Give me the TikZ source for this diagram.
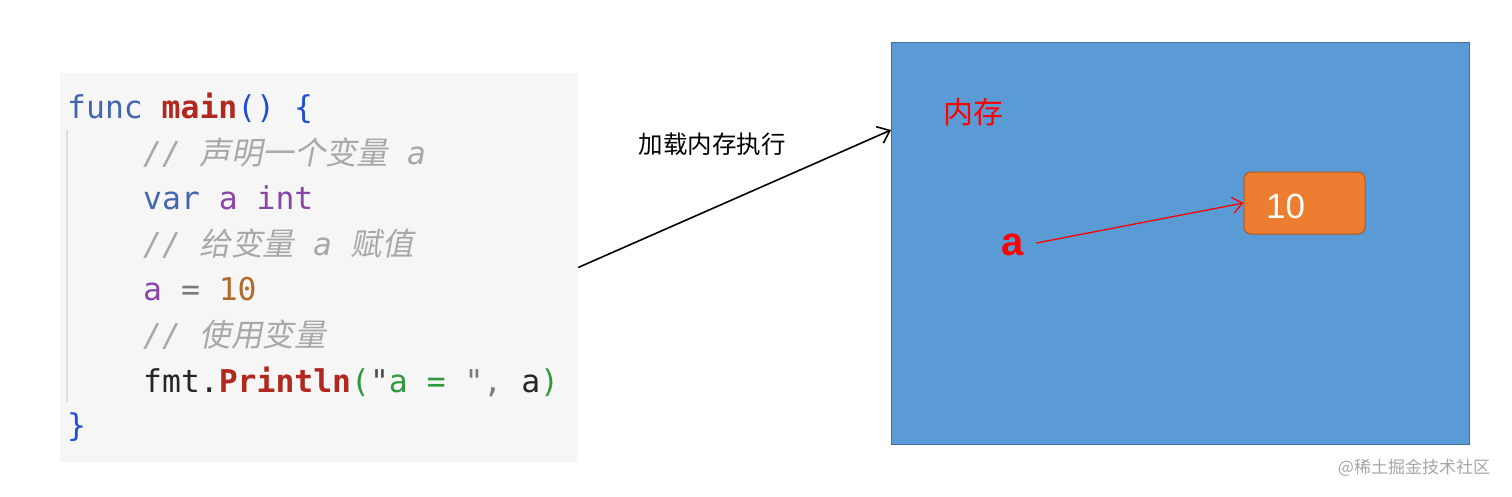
\documentclass[tikz,border=0pt]{standalone}
\usepackage{fontspec}
\usepackage{xcolor}
\setmainfont{Liberation Sans}
\setmonofont{DejaVu Sans Mono}
\newfontfamily\cjk{Noto Sans CJK SC}
\newfontfamily\cjkit{Noto Sans CJK SC}[FakeSlant=0.2]
\usetikzlibrary{
    arrows.meta,
    positioning
}
\definecolor{panelgray}{HTML}{F6F6F6}
\definecolor{bargray}{HTML}{DCDCDC}
\definecolor{kwblue}{HTML}{4466B0}
\definecolor{brblue}{HTML}{1F4FD4}
\definecolor{fnred}{HTML}{B0281E}
\definecolor{varpurple}{HTML}{8A45A8}
\definecolor{numbrown}{HTML}{B5692A}
\definecolor{cmtgray}{HTML}{A8A8A8}
\definecolor{strgreen}{HTML}{2E9A3C}
\definecolor{opgray}{HTML}{7A7A7A}
\definecolor{memblue}{HTML}{5B9BD5}
\definecolor{memborder}{HTML}{41719C}
\definecolor{valorange}{HTML}{ED7D31}
\definecolor{valborder}{HTML}{AE5A21}

\begin{document}
\begin{tikzpicture}[
        x=1pt, y=-1pt,
        panel/.style={rectangle, fill=panelgray, minimum width=518pt, minimum height=389pt, inner sep=0},
        codeline/.style={anchor=base west, inner sep=0, font=\fontsize{31.4}{36}\selectfont\ttfamily},
        cmt/.style={codeline, text=cmtgray, font=\fontsize{31.4}{36}\selectfont\ttfamily\itshape},
        membox/.style={rectangle, draw=memborder, fill=memblue, line width=1pt, minimum width=578pt, minimum height=402pt, inner sep=0},
        valbox/.style={rectangle, draw=valborder, fill=valorange, rounded corners=7pt, line width=1pt, minimum width=121pt, minimum height=62pt, inner sep=0},
        arrow/.style={-{Straight Barb[length=11pt, width=18pt, line width=1.6pt]}, line width=1.6pt},
        redarrow/.style={-{Straight Barb[length=10pt, width=16pt, line width=1.3pt]}, line width=1.3pt, draw=red}
    ]
        \useasboundingbox (0,0) rectangle (1512,496);

        % code panel
        \node[panel] (code) at (319,267.5) {};
        \draw[bargray, line width=2pt] (67,130) -- (67,402);

        \node[codeline] (l1) at (67,118) {{\color{kwblue}func} {\color{fnred}\bfseries main}{\color{brblue}() \{}};
        \node[cmt] (l2) at (143,164) {// {\cjkit 声明一个变量} a};
        \node[codeline] (l3) at (143,209) {{\color{kwblue}var} {\color{varpurple}a int}};
        \node[cmt] (l4) at (143,255) {// {\cjkit 给变量} a {\cjkit 赋值}};
        \node[codeline] (l5) at (143,300) {{\color{varpurple}a} {\color{opgray}=} {\color{numbrown}10}};
        \node[cmt] (l6) at (143,346) {// {\cjkit 使用变量}};
        \node[codeline] (l7) at (143,392) {{\color{black!85}fmt.}{\color{fnred}\bfseries Println}{\color{strgreen}(}{\color{black!70}"}{\color{strgreen}a = }{\color{opgray}", }{\color{black!85}a}{\color{strgreen})}};
        \node[codeline] (l8) at (67,436) {{\color{brblue}\}}};

        % memory
        \node[membox] (mem) at (1180,243) {};
        \coordinate (memin) at (891,130);
        \node[font=\fontsize{30}{36}\selectfont\cjk, text=red, inner sep=0] (memlbl) at (973,112) {内存};
        \node[valbox] (val) at (1304.5,203) {};
        \node[font=\fontsize{35}{40}\selectfont, text=white, anchor=base west, inner sep=0] (valtxt) at (1266,218) {10};
        \node[font=\fontsize{40}{44}\selectfont\bfseries, text=red, inner sep=0] (avar) at (1013,245) {a};

        \node[font=\fontsize{24.5}{28}\selectfont\cjk, inner sep=0] (loadlbl) at (712,144) {加载内存执行};
        \node[font=\fontsize{17}{20}\selectfont\cjk, text=black!35, inner sep=0] (mark) at (1414,468) {@稀土掘金技术社区};

        \draw[arrow] (code.east) -- (memin);
        \draw[redarrow] ([xshift=12pt, yshift=2pt]avar.east) -- (val.west);
    \end{tikzpicture}
\end{document}
